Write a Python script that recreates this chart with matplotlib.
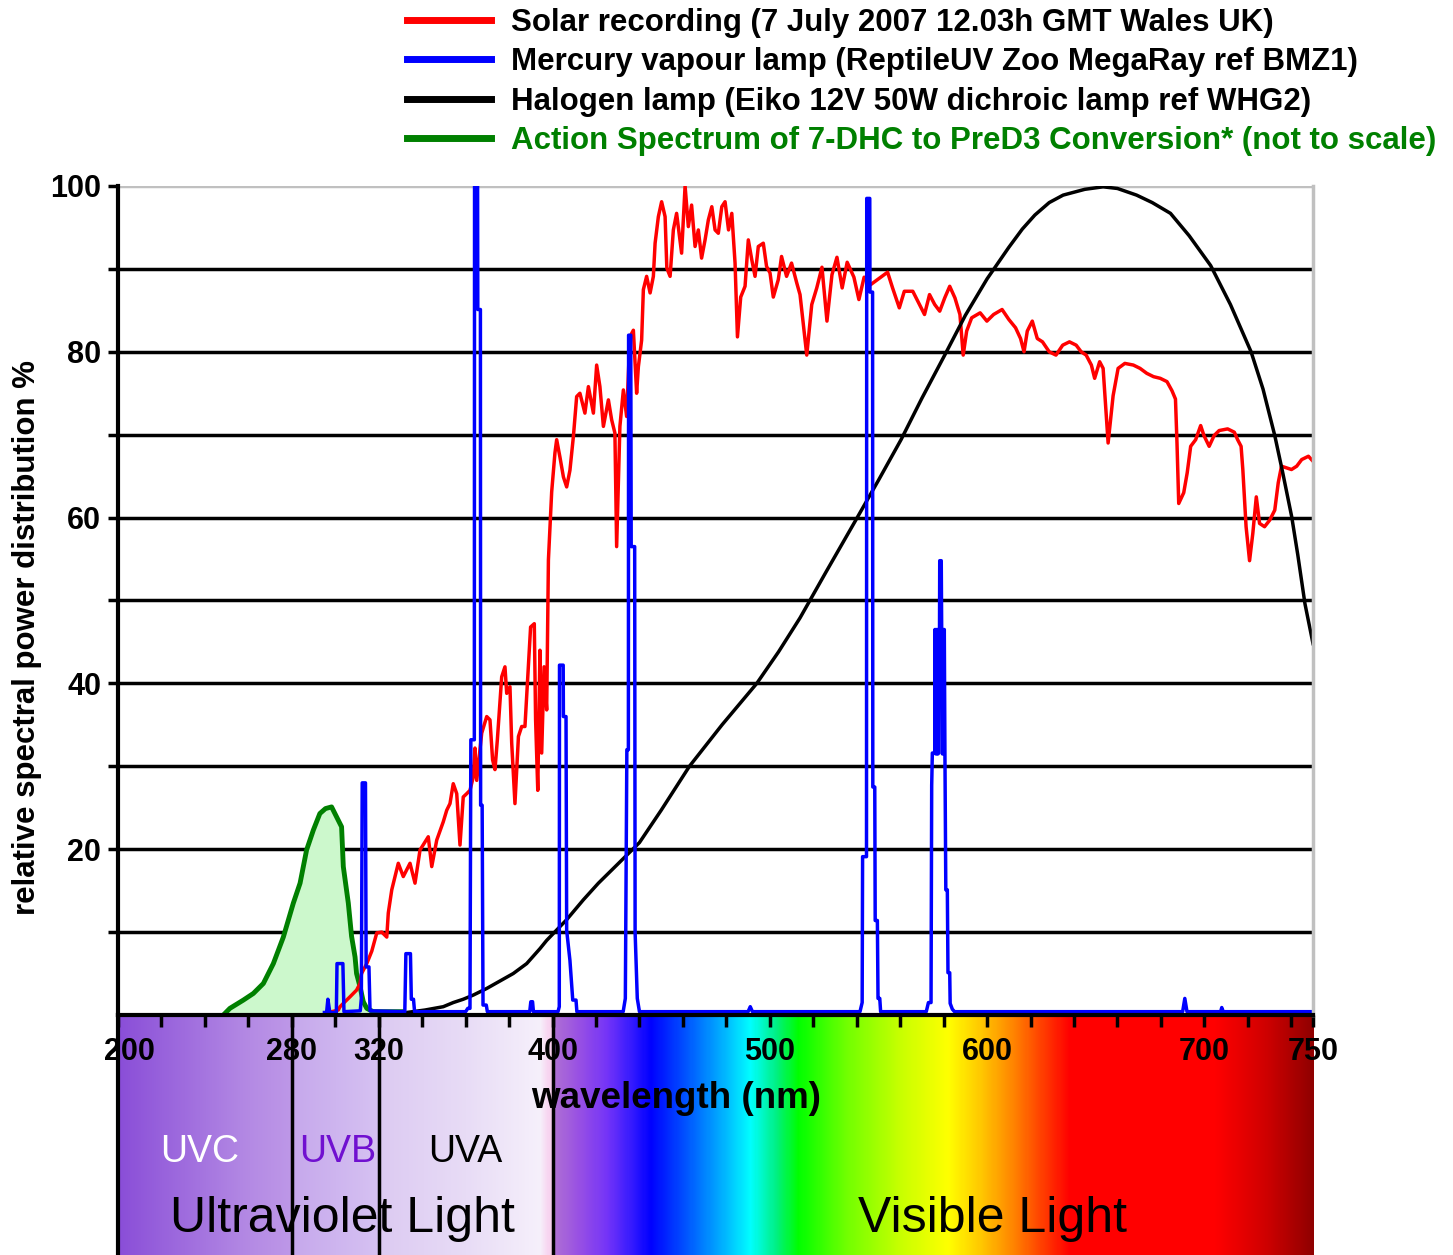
import numpy as np
import matplotlib.pyplot as plt
from matplotlib.colors import LinearSegmentedColormap
from matplotlib.lines import Line2D
from matplotlib.transforms import ScaledTranslation

plt.rcParams['font.family'] = ['Liberation Sans', 'DejaVu Sans']

# --- data (wavelength nm, relative %) ---
solar_nm = [295.5, 296.8, 301.4, 302.2, 303.7, 306.8, 309.8, 311.4, 312.1, 312.9, 314.5, 316.8,
            319.1, 321.4, 323.7, 324.4, 326.0, 329.0, 331.3, 334.4, 336.7, 339.0, 342.8, 344.4,
            346.7, 349.7, 351.3, 352.8, 354.3, 355.9, 357.4, 358.9, 360.5, 362.0, 363.5, 364.3,
            365.1, 367.4, 369.7, 371.2, 372.4, 373.5, 374.6, 376.6, 378.1, 378.9, 380.4, 381.2,
            382.7, 384.3, 385.8, 387.3, 388.8, 389.9, 391.6, 392.2, 393.2, 394.2, 395.0, 396.1,
            397.3, 398.1, 399.6, 401.1, 401.9, 403.4, 405.0, 406.5, 408.0, 409.6, 411.1, 412.6,
            414.9, 416.5, 418.8, 420.3, 421.8, 423.4, 425.7, 427.2, 428.7, 429.5, 431.0, 432.6,
            434.1, 435.6, 437.2, 438.7, 439.5, 441.0, 441.8, 443.3, 444.9, 446.4, 447.2, 448.7,
            450.2, 451.8, 452.6, 454.1, 455.6, 457.1, 459.4, 461.0, 462.5, 464.0, 465.6, 467.1,
            468.6, 470.2, 471.7, 473.3, 474.8, 476.3, 477.9, 479.4, 481.0, 482.5, 484.0, 485.1,
            486.6, 488.6, 490.1, 491.7, 493.2, 494.7, 497.0, 498.5, 500.1, 501.6, 503.9, 505.4,
            507.7, 510.0, 512.4, 513.9, 517.0, 519.3, 521.6, 524.0, 526.3, 528.6, 530.9, 533.3,
            535.6, 538.7, 541.0, 543.4, 546.4, 549.5, 554.2, 556.5, 559.6, 561.9, 565.8, 568.9,
            571.2, 573.5, 575.9, 578.2, 580.5, 582.8, 585.2, 587.5, 589.0, 590.6, 592.9, 596.8,
            599.9, 603.0, 606.9, 610.0, 613.1, 615.4, 617.0, 618.5, 620.8, 623.1, 625.5, 628.6,
            631.7, 634.8, 637.9, 641.0, 643.3, 645.6, 648.0, 649.5, 651.8, 653.4, 655.7, 658.0,
            660.3, 663.4, 667.3, 670.4, 673.5, 676.6, 679.7, 682.8, 685.1, 686.7, 687.4, 688.2,
            690.5, 692.1, 693.7, 696.0, 698.3, 699.8, 702.2, 704.5, 706.8, 710.7, 713.8, 715.3,
            716.9, 717.7, 719.2, 720.8, 722.3, 723.9, 725.4, 727.7, 730.1, 732.4, 734.0, 735.5,
            737.8, 740.1, 742.5, 744.8, 747.9, 750.0]
solar_val = [0.0, 0.3, 0.6, 1.0, 1.4, 2.2, 3.0, 3.8, 5.0, 5.4, 6.2, 7.7,
             9.9, 10.0, 9.4, 12.3, 15.1, 18.3, 16.7, 18.3, 15.9, 19.9, 21.5, 17.9,
             21.1, 23.3, 24.7, 25.5, 27.9, 26.7, 20.5, 26.3, 26.7, 27.1, 28.7, 32.2,
             28.3, 34.0, 36.0, 35.6, 30.8, 29.6, 33.2, 40.8, 42.0, 38.8, 39.6, 32.8,
             25.5, 33.6, 34.8, 34.8, 41.6, 46.8, 47.2, 35.6, 27.1, 44.0, 31.6, 42.0,
             36.8, 54.9, 63.1, 67.8, 69.4, 67.3, 64.9, 63.7, 65.7, 69.8, 74.6, 75.0,
             72.6, 75.8, 72.6, 78.4, 75.8, 71.0, 74.2, 71.8, 70.2, 56.5, 71.0, 75.4,
             72.2, 81.8, 82.6, 75.0, 78.2, 81.4, 87.5, 89.1, 87.1, 89.1, 93.1, 96.3,
             98.1, 96.3, 90.1, 89.1, 94.7, 96.7, 91.9, 100.0, 95.1, 97.7, 92.7, 94.7,
             91.3, 93.5, 95.9, 97.5, 94.7, 94.3, 97.5, 98.1, 94.7, 96.7, 90.7, 81.8,
             86.6, 87.9, 93.5, 91.1, 89.1, 92.7, 93.1, 90.3, 89.5, 86.6, 88.7, 91.5,
             89.1, 90.7, 88.3, 86.9, 79.6, 85.7, 87.7, 90.2, 83.7, 89.3, 91.4, 87.7,
             90.8, 89.0, 86.3, 89.0, 88.1, 88.7, 89.6, 87.7, 85.3, 87.3, 87.3, 85.7,
             84.5, 86.9, 85.7, 84.9, 86.5, 87.9, 86.5, 84.5, 79.6, 82.5, 84.1, 84.7,
             83.7, 84.5, 85.1, 83.9, 82.9, 81.6, 80.0, 82.5, 83.7, 81.6, 81.2, 80.0,
             79.6, 80.8, 81.2, 80.8, 80.0, 79.6, 78.4, 76.8, 78.8, 78.0, 69.0, 74.7,
             78.0, 78.6, 78.4, 78.0, 77.4, 77.0, 76.8, 76.4, 75.3, 74.3, 69.0, 61.7,
             63.0, 65.4, 68.6, 69.4, 71.1, 69.9, 68.6, 69.9, 70.5, 70.7, 70.3, 69.4,
             68.6, 65.8, 58.9, 54.8, 58.1, 62.5, 59.3, 58.9, 59.7, 60.9, 64.2, 66.2,
             66.0, 65.8, 66.2, 67.0, 67.4, 66.8]

mercury_nm = [295.0, 296.0, 296.6, 297.5, 300.5, 300.8, 303.5, 304.0, 311.5, 312.0, 312.4, 313.9,
              314.2, 315.5, 316.0, 332.0, 332.5, 334.6, 335.0, 336.0, 336.5, 360.0, 361.0, 362.0,
              362.4, 364.0, 364.1, 365.5, 365.6, 366.8, 366.9, 367.6, 368.0, 369.5, 370.0, 389.5,
              390.0, 390.8, 391.2, 402.5, 403.1, 403.2, 404.9, 405.0, 406.2, 406.5, 408.0, 409.3,
              410.8, 411.2, 432.5, 433.5, 434.2, 434.9, 435.0, 436.0, 436.2, 437.8, 438.0, 439.0,
              440.0, 490.0, 491.0, 492.0, 541.5, 542.5, 542.7, 544.5, 544.6, 546.0, 546.1, 547.3,
              547.4, 548.3, 548.5, 549.5, 549.8, 550.6, 551.0, 572.0, 573.0, 574.2, 574.5, 574.8,
              575.9, 576.0, 576.3, 576.6, 576.9, 577.2, 577.5, 577.8, 578.1, 578.2, 578.9, 579.1,
              579.4, 579.7, 580.0, 580.3, 580.6, 581.0, 581.7, 582.0, 582.8, 583.0, 584.0, 585.0,
              690.0, 691.0, 692.0, 707.5, 708.0, 708.7, 750.0]
mercury_val = [0.3, 0.3, 1.9, 0.3, 0.3, 6.2, 6.2, 0.4, 0.5, 2.0, 28.0, 28.0,
               5.8, 5.8, 0.5, 0.4, 7.4, 7.4, 1.9, 1.9, 0.4, 0.4, 0.8, 0.8,
               33.2, 33.2, 100.0, 100.0, 85.1, 85.1, 25.3, 25.3, 1.2, 1.2, 0.4, 0.4,
               1.6, 1.6, 0.4, 0.4, 1.0, 42.2, 42.2, 36.0, 36.0, 10.2, 6.6, 1.8,
               1.8, 0.4, 0.4, 2.0, 32.0, 32.0, 82.0, 82.0, 56.5, 56.5, 10.0, 2.0,
               0.4, 0.4, 1.0, 0.4, 0.4, 1.5, 19.1, 19.1, 98.5, 98.5, 87.2, 87.2,
               27.5, 27.5, 11.4, 11.4, 2.0, 2.0, 0.4, 0.4, 1.5, 1.5, 27.7, 31.6,
               31.6, 46.5, 31.5, 46.5, 31.5, 46.5, 31.5, 46.5, 46.5, 54.8, 54.8, 46.5,
               31.5, 46.5, 31.5, 46.5, 31.2, 15.1, 15.1, 5.1, 5.1, 1.4, 0.7, 0.4,
               0.4, 2.0, 0.4, 0.4, 0.9, 0.4, 0.4]

halogen_nm = [330.0, 332.8, 341.3, 349.7, 354.3, 358.9, 363.5, 369.7, 375.8, 381.9, 388.1, 394.2,
              397.3, 406.5, 414.2, 421.1, 430.0, 440.0, 450.0, 463.0, 478.0, 494.0, 504.0, 513.9,
              526.0, 538.7, 550.0, 560.4, 570.0, 580.5, 590.0, 600.0, 610.0, 616.2, 622.0, 628.6,
              635.0, 645.0, 653.4, 660.0, 668.8, 676.0, 684.4, 693.0, 702.9, 712.0, 721.5, 727.0,
              732.4, 736.0, 740.2, 743.0, 746.3, 750.0]
halogen_val = [0.0, 0.3, 0.6, 1.0, 1.5, 1.9, 2.4, 3.2, 4.1, 5.0, 6.2, 8.0,
               9.0, 11.5, 13.9, 15.9, 18.2, 20.8, 24.7, 30.0, 35.0, 40.0, 43.8, 47.9,
               53.5, 59.3, 64.5, 69.4, 74.4, 79.6, 84.4, 88.8, 92.6, 94.8, 96.5, 98.0,
               98.9, 99.6, 99.9, 99.7, 98.9, 98.0, 96.7, 94.0, 90.4, 85.7, 80.0, 75.5,
               69.9, 65.5, 60.1, 55.5, 49.6, 44.8]

action_nm = [248.5, 251.5, 257.7, 262.3, 266.9, 271.5, 276.1, 280.7, 283.8, 286.8, 289.9, 292.9,
             295.5, 298.3, 300.6, 302.9, 303.7, 306.0, 307.5, 309.1, 309.8, 311.4, 312.9, 314.5,
             317.5, 330.5]
action_val = [0.0, 0.8, 1.8, 2.6, 3.8, 6.2, 9.4, 13.5, 15.9, 19.9, 22.3, 24.3,
              24.9, 25.1, 23.9, 22.7, 17.9, 13.5, 9.5, 7.0, 5.0, 3.4, 1.6, 0.8,
              0.4, 0.4]

legend_labels = ['Solar recording (7 July 2007 12.03h GMT Wales UK)',
                 'Mercury vapour lamp (ReptileUV Zoo MegaRay ref BMZ1)',
                 'Halogen lamp (Eiko 12V 50W dichroic lamp ref WHG2)',
                 'Action Spectrum of 7-DHC to PreD3 Conversion* (not to scale)']
x_tick_labels = [200, 280, 320, 400, 500, 600, 700, 750]
band_edges = [280, 320, 400]

# colour stops for the wavelength band under the plot
band_stops = [(200, '#8a4ed8'), (260, '#b48ae4'), (279.9, '#be98e8'), (280.1, '#c6a8ec'),
              (319.9, '#d6c2f2'), (320.1, '#dccaf2'), (360, '#e8dcf6'), (394, '#f6f0fb'),
              (398, '#f8d4f0'), (400, '#f6c6ec'), (400.5, '#b070d4'), (412, '#9850e4'),
              (425, '#7434f8'), (437, '#3018ff'), (445, '#0000ff'), (462, '#0058ff'),
              (478, '#00b0ff'), (491, '#00ffff'), (503, '#00f080'), (513, '#00ff00'),
              (535, '#70ff00'), (560, '#c8ff00'), (582, '#ffff00'), (597, '#ffc800'),
              (612, '#ff8400'), (625, '#ff4000'), (638, '#ff0000'), (705, '#ff0000'),
              (728, '#d00000'), (750, '#900000')]

fig = plt.figure(figsize=(14.53, 12.55), dpi=100)
ax = fig.add_axes([0.08121, 0.19124, 0.82244, 0.66056])
band = fig.add_axes([0.08121, 0.0, 0.82244, 0.19124])
ax.set_zorder(3)
band.set_zorder(1)

# spectrum band
pos = [(w - 200) / 550 for w, _ in band_stops]
cmap = LinearSegmentedColormap.from_list('spec', list(zip(pos, [c for _, c in band_stops])), N=1024)
grad = np.linspace(0, 1, 1100).reshape(1, -1)
band.imshow(grad, extent=[200, 750, 0, 1], aspect='auto', cmap=cmap, interpolation='bilinear')
band.set_xlim(200, 750)
band.set_ylim(0, 1)
for e in band_edges:
    band.axvline(e, color='black', lw=2.5)
for s in ['top', 'right', 'bottom']:
    band.spines[s].set_visible(False)
band.spines['left'].set_linewidth(3)
band.set_xticks([])
band.set_yticks([])

band.text(457, 0.654, 'wavelength (nm)', ha='center', va='center', fontsize=26.5, fontweight='bold')
band.text(237.7, 0.43, 'UVC', ha='center', va='center', fontsize=27, color='white')
band.text(301, 0.43, 'UVB', ha='center', va='center', fontsize=27, color='#7010d0')
band.text(360, 0.43, 'UVA', ha='center', va='center', fontsize=27, color='black')
band.text(303.5, 0.15, 'Ultraviolet Light', ha='center', va='center', fontsize=36)
band.text(602.6, 0.15, 'Visible Light', ha='center', va='center', fontsize=36)

# curves
ax.fill_between(action_nm, action_val, color='#ccf8cc', lw=0)
ax.plot(action_nm, action_val, color='#008000', lw=3.5)
ax.plot(solar_nm, solar_val, color='red', lw=2.5)
ax.plot(halogen_nm, halogen_val, color='black', lw=2.5)
ax.plot(mercury_nm, mercury_val, color='blue', lw=2.5)

ax.set_xlim(200, 750)
ax.set_ylim(0, 100)
ax.set_yticks(range(10, 101, 10))
ax.set_yticklabels([str(v) if v % 20 == 0 else '' for v in range(10, 101, 10)])
ax.set_xticks(x_tick_labels)
ax.set_xticks(range(220, 741, 20), minor=True)
ax.tick_params(axis='y', length=7, width=2.5, pad=5, labelsize=22)
ax.tick_params(axis='x', which='both', length=8.5, width=2.5, pad=7, labelsize=22)
for lab in ax.get_xticklabels() + ax.get_yticklabels():
    lab.set_fontweight('bold')
first = ax.get_xticklabels()[0]
first.set_transform(first.get_transform() + ScaledTranslation(0.11, 0, fig.dpi_scale_trans))
ax.grid(axis='y', color='black', lw=2.5)
ax.get_ygridlines()[-1].set_color('#c0c0c0')
ax.spines['top'].set_visible(False)
ax.spines['right'].set_color('#c0c0c0')
ax.spines['right'].set_linewidth(2.5)
ax.spines['left'].set_linewidth(3)
ax.spines['bottom'].set_linewidth(3)
ax.set_axisbelow(True)

fig.text(27 / 1453, 1 - 638 / 1255, 'relative spectral power distribution %', rotation=90,
         ha='center', va='center', fontsize=22.5, fontweight='bold')

handles = [Line2D([], [], color=c, lw=5) for c in ['red', 'blue', 'black', '#008000']]
leg = fig.legend(handles, legend_labels, loc='upper left', bbox_to_anchor=(407 / 1453, 1 - 8 / 1255),
                 frameon=False, prop={'size': 22.5, 'weight': 'bold'}, handlelength=2.7,
                 handletextpad=0.64, labelspacing=0.30, borderpad=0, borderaxespad=0)
for t, c in zip(leg.get_texts(), ['black', 'black', 'black', '#008000']):
    t.set_color(c)

fig.savefig('out.png', dpi=100)
